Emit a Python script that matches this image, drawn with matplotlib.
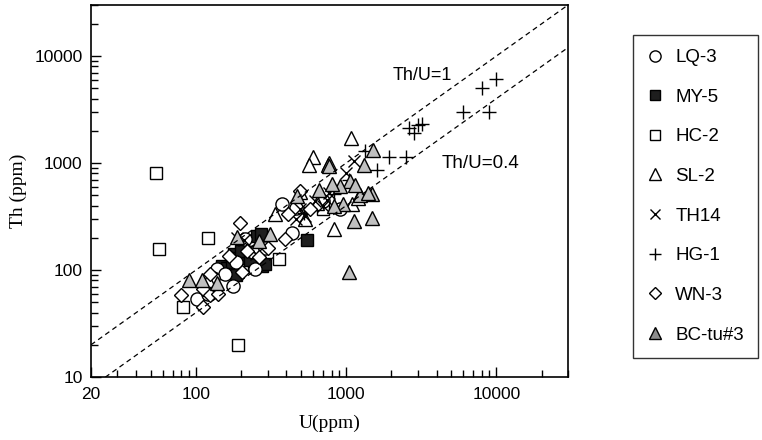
import matplotlib
matplotlib.use("Agg")
import matplotlib.pyplot as plt
from matplotlib.ticker import LogLocator, FixedLocator, NullFormatter

# sample data: U (ppm), Th (ppm)
lq3_u = [373, 434, 247, 177, 137, 156, 101, 912, 212, 240, 120, 130, 290, 460, 700, 185]
lq3_th = [410, 224, 102, 71, 102, 92, 54, 369, 194, 146, 60, 85, 160, 380, 440, 120]

my5_u = [150, 160, 185, 180, 190, 200, 245, 255, 270, 275, 260, 290, 547, 175, 230]
my5_th = [110, 105, 89, 140, 130, 150, 110, 208, 215, 110, 140, 115, 191, 120, 125]

hc2_u = [54, 57, 120, 82, 191, 355, 705]
hc2_th = [800, 157, 200, 45, 20, 127, 370]

sl2_u = [1080, 605, 570, 771, 824, 1091, 533, 493, 336, 1200, 760, 640, 120]
sl2_th = [1700, 1150, 967, 1000, 240, 410, 298, 533, 331, 470, 960, 420, 80]

th14_u = [1120, 774, 750, 533, 493, 187, 1000, 620, 460, 210, 230, 250, 700]
th14_th = [1035, 526, 455, 320, 369, 200, 800, 440, 300, 190, 160, 140, 400]

hg1_u = [10000, 8000, 6000, 9000, 3190, 3000, 2606, 2812, 1914, 2513, 1600, 1340, 1037, 825, 520]
hg1_th = [6100, 5000, 3000, 3020, 2320, 2250, 2110, 1900, 1150, 1150, 867, 1283, 700, 510, 343]

wn3_u = [196, 80, 112, 112, 124, 141, 124, 165, 201, 261, 303, 392, 413, 575, 493, 220]
wn3_th = [277, 58, 45, 67, 58, 60, 92, 136, 95, 131, 162, 194, 331, 369, 545, 150]

bc_u = [1520, 1305, 1120, 1480, 1037, 1480, 1227, 1063, 959, 824, 903, 802, 657,
        469, 311, 263, 187, 90, 109, 137, 771, 1400, 1150]
bc_th = [1330, 967, 287, 308, 95, 515, 498, 676, 410, 396, 607, 630, 565,
         490, 216, 187, 204, 81, 81, 75, 930, 520, 620]

ratio_lines = [1.0, 0.4]
ratio_labels = ["Th/U=1", "Th/U=0.4"]
line_x = [20, 30000]

sans = "Liberation Sans"
serif = "Liberation Serif"

fig = plt.figure(figsize=(7.62, 4.40), dpi=100)
ax = fig.add_axes([91 / 762, 63 / 440, 477 / 762, 372 / 440])
ax.set_xscale("log")
ax.set_yscale("log")
ax.set_xlim(20, 30000)
ax.set_ylim(10, 30000)

mew = 1.0
h_hc2, = ax.plot(hc2_u, hc2_th, ls="none", marker="s", ms=9, mfc="white", mec="black", mew=mew, label="HC-2")
h_my5, = ax.plot(my5_u, my5_th, ls="none", marker="s", ms=9, mfc="#1e1e1e", mec="black", mew=mew, label="MY-5")
h_lq3, = ax.plot(lq3_u, lq3_th, ls="none", marker="o", ms=9.5, mfc="white", mec="black", mew=mew, label="LQ-3")
h_sl2, = ax.plot(sl2_u, sl2_th, ls="none", marker="^", ms=10, mfc="white", mec="black", mew=mew, label="SL-2")
h_th14, = ax.plot(th14_u, th14_th, ls="none", marker="x", ms=8, mec="black", mew=mew, label="TH14")
h_hg1, = ax.plot(hg1_u, hg1_th, ls="none", marker="+", ms=10, mec="black", mew=mew, label="HG-1")
h_wn3, = ax.plot(wn3_u, wn3_th, ls="none", marker="D", ms=7, mfc="white", mec="black", mew=mew, label="WN-3")
h_bc, = ax.plot(bc_u, bc_th, ls="none", marker="^", ms=10, mfc="#c0c0c0", mec="black", mew=mew, label="BC-tu#3")

# reference ratio lines
for r in ratio_lines:
    ax.plot(line_x, [r * v for v in line_x], color="black", ls=(0, (4, 3)), lw=0.9)

ax.text(3190, 6600, ratio_labels[0], ha="center", va="center", fontsize=13, family=sans)
ax.text(7900, 1000, ratio_labels[1], ha="center", va="center", fontsize=13.5, family=sans)

# ticks
ax.xaxis.set_major_locator(FixedLocator([20, 100, 1000, 10000]))
ax.xaxis.set_minor_locator(LogLocator(base=10, subs=range(2, 10), numticks=20))
ax.xaxis.set_minor_formatter(NullFormatter())
ax.set_xticklabels(["20", "100", "1000", "10000"])
ax.yaxis.set_major_locator(FixedLocator([10, 100, 1000, 10000]))
ax.yaxis.set_minor_locator(LogLocator(base=10, subs=range(2, 10), numticks=20))
ax.yaxis.set_minor_formatter(NullFormatter())
ax.set_yticklabels(["10", "100", "1000", "10000"])
ax.tick_params(which="both", direction="in", top=False, right=False, labelsize=12.5, width=1)
ax.tick_params(which="major", length=7)
ax.tick_params(which="minor", length=5)
ax.tick_params(axis="x", which="both", pad=7)
ax.tick_params(axis="y", which="both", pad=6)
for lab in ax.get_xticklabels() + ax.get_yticklabels():
    lab.set_family(sans)
for sp in ax.spines.values():
    sp.set_linewidth(1.2)

ax.set_xlabel("U(ppm)", fontsize=14, family=serif, labelpad=9)
ax.set_ylabel("Th (ppm)", fontsize=14, family=serif, labelpad=5)

handles = [h_lq3, h_my5, h_hc2, h_sl2, h_th14, h_hg1, h_wn3, h_bc]
leg = fig.legend(handles=handles, loc="upper left", bbox_to_anchor=(633 / 762, 1 - 35 / 440),
                 frameon=True, fancybox=False, edgecolor="black", markerscale=0.85,
                 prop={"family": sans, "size": 13.5}, labelspacing=1.2, handlelength=0.85,
                 handletextpad=0.65, borderpad=0.75, borderaxespad=0)
leg.get_frame().set_linewidth(1.0)
leg.legend_handles[7].set_markerfacecolor("#8c8c8c")

fig.savefig("out.png", dpi=100)
